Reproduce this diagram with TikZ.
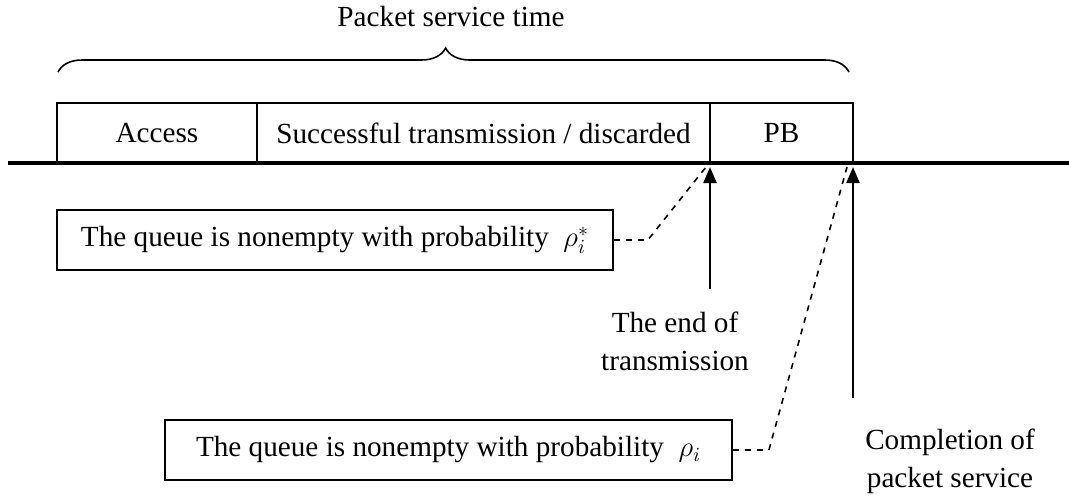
\documentclass[tikz,border=0pt]{standalone}
\usepackage{fontspec}
\setmainfont{Liberation Serif}
\usetikzlibrary{decorations.pathreplacing,arrows.meta}

\tikzset{
  seg/.style={draw, line width=1.4pt, minimum height=30pt, inner sep=0pt,
    outer sep=0pt, anchor=south west},
  qbox/.style={draw, line width=0.9pt, minimum height=30pt, inner sep=0pt},
  link/.style={dashed, line width=0.8pt},
  mark arrow/.style={line width=1.1pt, -{Triangle[length=8pt,width=6.5pt]},
    shorten >=2pt},
}

\begin{document}
\begin{tikzpicture}[x=0.5pt, y=-0.5pt, font=\fontsize{14.6}{19}\selectfont]
  \useasboundingbox (0,0) rectangle (1069,499);

  % time axis
  \coordinate (axl) at (8,163);
  \coordinate (axr) at (1069,163);
  \draw[line width=1.6pt] (axl) -- (axr);

  % service phases
  \node[seg, minimum width=100pt] (access) at (57,163) {Access};
  \node[seg, minimum width=226.5pt] (succ) at (access.south east)
    {Successful transmission / discarded};
  \node[seg, minimum width=71.5pt] (pb) at (succ.south east) {PB};

  % brace over the whole service
  \draw[decorate, decoration={brace, amplitude=12pt, aspect=0.49}, line width=0.8pt]
    (58,72) -- (849,72);
  \node (svc) at (451,17) {Packet service time};

  % queue state boxes
  \node[qbox, minimum width=278pt] (q1) at (335,240)
    {The queue is nonempty with probability~~$\rho_i^*$};
  \node[qbox, minimum width=283.5pt] (q2) at (448.5,450)
    {The queue is nonempty with probability~~$\rho_i$};

  \draw[link] (q1.east) -- ++(34,0) -- ([xshift=-2pt,yshift=-2pt]succ.south east);
  \draw[link] (q2.east) -- ++(36,0) -- ([xshift=-3pt,yshift=-2pt]pb.south east);

  % event arrows
  \coordinate (endtail) at (710,289);
  \coordinate (comptail) at (853,398);
  \draw[mark arrow] (endtail) -- (succ.south east);
  \draw[mark arrow] (comptail) -- (pb.south east);

  \node[align=center] (endlbl) at (675,341) {The end of\\transmission};
  \node[align=center] (complbl) at (950,461) {Completion of\\packet service};
\end{tikzpicture}
\end{document}
